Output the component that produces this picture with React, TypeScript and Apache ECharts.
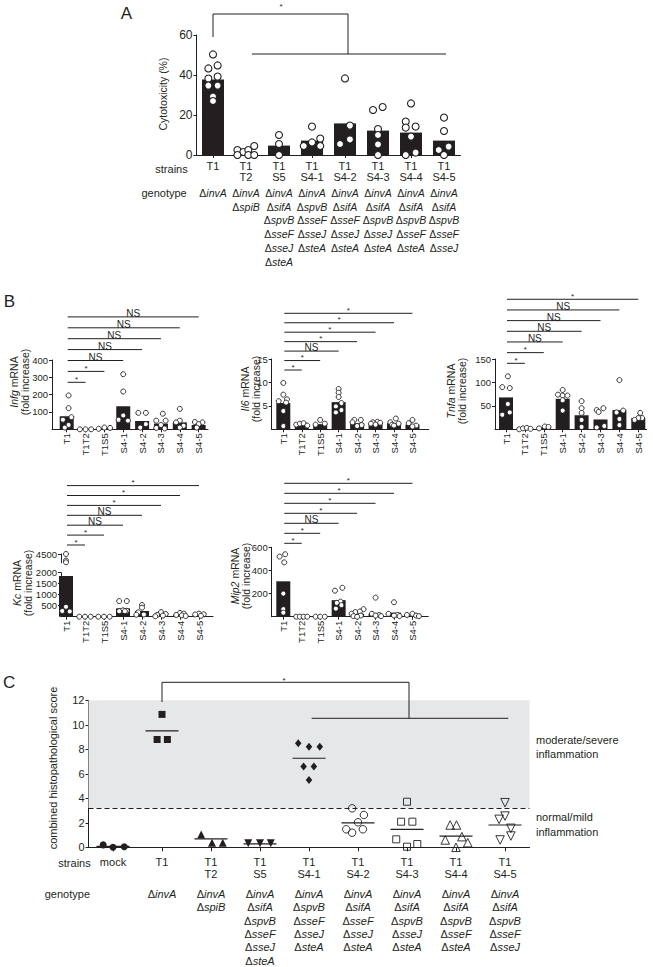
import React, { useEffect, useRef } from 'react';
import * as echarts from 'echarts';

const INK = '#231f20';
const GREY_BAND = '#e6e7e8';
const FONT = '"Liberation Sans", Arial, Helvetica, sans-serif';

// ---------------- Panel A : cytotoxicity ----------------
const strainsA = ['T1', 'T1\nT2', 'T1\nS5', 'T1\nS4-1', 'T1\nS4-2', 'T1\nS4-3', 'T1\nS4-4', 'T1\nS4-5'];
const cytoTicks = [0, 20, 40, 60];
const cytoBars = [37.8, 1.2, 4.7, 7.2, 15.8, 12.2, 11.2, 7.2];
const cytoPoints = [
  [50.3, 44.8, 43.3, 39.2, 38.2, 34.7, 34.7, 29.2, 27],
  [2.5, 1.5, 2.5, 4.5, 0, 0, 0],
  [10, 5.5, 0],
  [14.2, 8.2, 6.3, 4.5, 4.5],
  [38.3, 14.7, 7.8, 5.5],
  [24, 22.5, 13, 10, 5.3, 0],
  [25.8, 16.7, 14.2, 13.7, 9.2, 1.2, 0],
  [18.7, 12, 4.2, 2.5, 0],
];
const cytoJitter = [
  [0, 0.14, -0.14, 0.14, -0.14, -0.14, 0.14, 0, 0],
  [-0.26, -0.08, 0.07, 0.25, -0.26, 0.07, 0.25],
  [0, 0, 0],
  [0, 0.25, 0, -0.25, 0.25],
  [0, 0.15, 0.15, -0.15],
  [0.14, -0.15, 0, 0, 0, 0],
  [0, -0.16, 0.14, -0.16, 0, 0.14, -0.16],
  [0, 0, 0.14, -0.16, 0],
];
const genotypes = [
  ['invA'],
  ['invA', 'spiB'],
  ['invA', 'sifA', 'spvB', 'sseF', 'sseJ', 'steA'],
  ['invA', 'spvB', 'sseF', 'sseJ', 'steA'],
  ['invA', 'sifA', 'sseF', 'sseJ', 'steA'],
  ['invA', 'sifA', 'spvB', 'sseJ', 'steA'],
  ['invA', 'sifA', 'spvB', 'sseF', 'steA'],
  ['invA', 'sifA', 'spvB', 'sseF', 'sseJ'],
];

// ---------------- Panel B : mRNA fold increase ----------------
const strainsB = ['T1', 'T1T2', 'T1S5', 'S4-1', 'S4-2', 'S4-3', 'S4-4', 'S4-5'];

const infgTicks = [100, 200, 300, 400];
const infgBars = [75, 0, 5, 133, 48, 33, 40, 25];
const infgPoints = [
  [195, 122, 70, 55, 25, 10],
  [0, 0, 0],
  [3, 10, 8],
  [318, 218, 80, 55, 50],
  [95, 95, 30, 10],
  [90, 50, 50, 25, 8, 5],
  [118, 50, 40, 20, 10],
  [42, 40, 30, 10],
];
const infgJitter = [
  [0.1, 0.1, 0.25, -0.2, 0.1, -0.1],
  [-0.3, 0, 0.3],
  [-0.3, 0, 0.3],
  [0, 0, 0, -0.25, 0.25],
  [-0.2, 0.2, 0.2, -0.1],
  [0.1, -0.25, 0.25, 0, -0.25, 0.2],
  [0, 0, -0.2, 0.2, 0],
  [-0.2, 0.2, 0, -0.1],
];
const infgSig = ['*', '*', 'NS', 'NS', 'NS', 'NS', 'NS'];

const il6Ticks = [5, 10, 15];
const il6Bars = [5.6, 0.9, 1.1, 5.8, 1.3, 1.3, 1.3, 1.0];
const il6Points = [
  [9.9, 7.4, 6.4, 6.0, 5.7, 3.9, 0.7],
  [1.0, 1.2, 1.3, 0.8],
  [2.0, 1.0, 1.2],
  [8.6, 7.8, 6.9, 5.6, 4.9, 4.1, 3.6],
  [2.0, 2.0, 1.5, 0.9, 0.7],
  [1.6, 1.5, 1.4, 1.2, 1.0],
  [2.3, 1.5, 1.2, 1.0, 0.8],
  [2.0, 1.3, 0.8, 0.6],
];
const il6Jitter = [
  [0, 0, 0.2, -0.25, 0.15, 0, 0],
  [-0.3, -0.1, 0.1, 0.3],
  [0, -0.25, 0.25],
  [0, 0, 0, 0.15, -0.15, 0.15, -0.15],
  [-0.15, 0.2, -0.25, 0.25, 0],
  [0.1, -0.15, 0.25, -0.25, 0],
  [0.1, -0.2, 0.25, -0.1, 0],
  [0, -0.2, 0.2, 0],
];
const il6Sig = ['*', '*', 'NS', '*', '*', '*', '*'];

const tnfaTicks = [50, 100, 150];
const tnfaBars = [68, 1, 3, 65, 30, 21, 41, 24];
const tnfaPoints = [
  [113, 90, 88, 54, 36, 31],
  [0, 2, 3, 1],
  [2, 6, 5],
  [84, 74, 72, 72, 62, 40],
  [60, 45, 35, 20, 5],
  [45, 41, 37, 7, 4],
  [105, 40, 36, 22, 9],
  [35, 24, 24, 20],
];
const tnfaJitter = [
  [0.1, -0.2, 0.2, 0.1, 0.2, -0.2],
  [-0.3, -0.1, 0.1, 0.3],
  [-0.25, 0.05, 0.25],
  [0, -0.25, 0, 0.25, 0, 0],
  [0, 0, 0, 0, 0],
  [0.15, -0.2, -0.1, 0.2, -0.2],
  [0, 0.2, -0.15, 0, 0],
  [0.1, 0.2, 0, -0.2],
];
const tnfaSig = ['*', '*', 'NS', 'NS', 'NS', 'NS', '*'];

const kcTicksLow = [500, 1000, 1500, 2000];
const kcTicksHigh = [2500, 4500];
const kcBars = [1850, 0, 0, 380, 260, 70, 70, 50];
const kcPoints = [
  [4500, 3000, 2600, 450, 260, 240],
  [0, 0, 0],
  [0, 0, 0],
  [710, 710, 290, 270, 250, 250],
  [530, 410, 200, 100, 90],
  [210, 120, 80, 50, 20],
  [170, 140, 80, 60, 30],
  [140, 110, 100, 40],
];
const kcJitter = [
  [0, 0, 0, 0, -0.2, 0.2],
  [-0.3, 0, 0.3],
  [-0.3, 0, 0.3],
  [-0.2, 0.2, 0, 0.2, -0.2, 0.1],
  [0, 0, -0.2, 0.1, -0.3],
  [0, 0.25, -0.2, 0.1, -0.3],
  [0, 0.2, -0.2, 0.1, 0.3],
  [0, 0.25, -0.2, 0.1],
];
const kcSig = ['*', '*', 'NS', 'NS', '*', '*', '*'];

const mip2Ticks = [200, 400, 600];
const mip2Bars = [306, 0, 0, 143, 25, 25, 35, 10];
const mip2Points = [
  [540, 520, 470, 200, 65, 35],
  [0, 0, 0, 0],
  [0, 0, 0],
  [250, 225, 130, 120, 100, 70],
  [65, 45, 40, 25, 10, 5, 0],
  [165, 25, 15, 10, 5],
  [125, 25, 15, 10, 5],
  [25, 15, 10, 5],
];
const mip2Jitter = [
  [0.1, -0.2, 0.05, 0, 0, 0],
  [-0.3, -0.1, 0.1, 0.3],
  [-0.25, 0, 0.25],
  [0.2, -0.2, 0.1, -0.1, 0.15, -0.15],
  [0.35, 0.15, -0.1, -0.3, 0.2, -0.2, 0],
  [0, -0.2, 0.2, 0, 0.3],
  [0, -0.3, 0.2, 0, 0.3],
  [0, -0.3, 0.2, 0.35],
];
const mip2Sig = ['*', '*', 'NS', '*', '*', '*', '*'];

// ---------------- Panel C : histopathology ----------------
const strainsC = ['mock', 'T1', 'T1\nT2', 'T1\nS5', 'T1\nS4-1', 'T1\nS4-2', 'T1\nS4-3', 'T1\nS4-4', 'T1\nS4-5'];
const histoTicks = [0, 2, 4, 6, 8, 10, 12];
const histoScores = [
  [0.2, 0, 0.05],
  [10.85, 8.8, 8.8],
  [1.05, 0.38, 0.38],
  [0.33, 0.33, 0.33],
  [8.5, 8.2, 8.2, 6.6, 6.6, 5.5],
  [3.18, 2.64, 2.04, 1.47, 1.19, 1.47],
  [3.72, 2.09, 2.09, 0.65, 0.27, 0.05],
  [1.82, 1.82, 0.87, 0.6, 0.38, 0],
  [3.64, 2.55, 2.28, 1.55, 0.92, 0.6],
];
const histoJitter = [
  [-0.2, 0, 0.23],
  [0, -0.1, 0.11],
  [-0.2, 0.02, 0.24],
  [-0.24, 0, 0.22],
  [-0.22, 0, 0.22, -0.11, 0.1, 0],
  [-0.12, 0.12, 0, -0.24, -0.12, 0.1],
  [0, -0.12, 0.11, -0.22, 0.21, 0],
  [-0.12, 0.01, 0.12, -0.22, 0.24, 0],
  [0, 0, -0.12, 0.12, 0.12, -0.1],
];
const histoMeans = [0.07, 9.5, 0.68, 0.28, 7.27, 2.0, 1.47, 0.92, 1.82];
const inflammationCutoff = 3.2;

// ---------------- layout (pixels) ----------------
const LA = { left: 196.5, top: 35, width: 264, height: 120, band: 33 };
const LC = { left: 88.5, top: 700.3, width: 441, height: 147, band: 49 };
const bPanels = [
  { gene: 'Infg', ticks: infgTicks, yMax: 400, bars: infgBars, points: infgPoints, jitter: infgJitter, sig: infgSig,
    left: 52, top: 360, width: 156, height: 69.3, c0: 66.7, band: 18.85, brBottom: 382.3, brStep: 10.9, titleX: 19.5, titleY: 382 },
  { gene: 'Il6', ticks: il6Ticks, yMax: 15, bars: il6Bars, points: il6Points, jitter: il6Jitter, sig: il6Sig,
    left: 271.7, top: 359, width: 157, height: 70.3, c0: 283.3, band: 18.45, brBottom: 370, brStep: 9.45, titleX: 250, titleY: 389 },
  { gene: 'Tnfa', ticks: tnfaTicks, yMax: 150, bars: tnfaBars, points: tnfaPoints, jitter: tnfaJitter, sig: tnfaSig,
    left: 495, top: 359, width: 151.7, height: 70.3, c0: 506, band: 18.9, brBottom: 363.3, brStep: 10.67, titleX: 456.5, titleY: 391 },
  { gene: 'Kc', ticks: kcTicksLow, yMax: 2000, bars: kcBars, points: kcPoints, jitter: kcJitter, sig: kcSig,
    left: 61, top: 572.7, width: 152, height: 44, c0: 66, band: 19, brBottom: 545, brStep: 9.9, titleX: 22.5, titleY: 583,
    upper: { top: 554, height: 8.7, min: 2500, max: 4500, ticks: kcTicksHigh } },
  { gene: 'Mip2', ticks: mip2Ticks, yMax: 600, bars: mip2Bars, points: mip2Points, jitter: mip2Jitter, sig: mip2Sig,
    left: 271.7, top: 547.3, width: 156.6, height: 69.4, c0: 283.3, band: 18.45, brBottom: 543.3, brStep: 10, titleX: 240, titleY: 576 },
];

function txt(text: string, x: number, y: number, o: any = {}) {
  return {
    type: 'text', x, y, rotation: o.rotation || 0, silent: true, z: 10,
    style: {
      text, fill: INK, fontSize: o.fontSize || 11, fontFamily: FONT,
      fontStyle: o.fontStyle || 'normal',
      align: o.align || 'center', verticalAlign: o.verticalAlign || 'middle',
      lineHeight: o.lineHeight, rich: o.rich,
    },
  };
}
function seg(x1: number, y1: number, x2: number, y2: number) {
  return { type: 'line', silent: true, z: 10, shape: { x1, y1, x2, y2 }, style: { stroke: INK, lineWidth: 1 } };
}
function geneRich(fontSize: number) {
  return {
    d: { fontStyle: 'normal', fontSize, fontFamily: FONT, fill: INK },
    i: { fontStyle: 'italic', fontSize, fontFamily: FONT, fill: INK },
  };
}
function jittered(groups: number[][], jitter: number[][], keep?: (v: number) => boolean) {
  const out: number[][] = [];
  groups.forEach((vals, i) => vals.forEach((v, k) => {
    if (!keep || keep(v)) out.push([i + ((jitter[i] && jitter[i][k]) || 0), v]);
  }));
  return out;
}

function buildOption() {
  const grid: any[] = [];
  const xAxis: any[] = [];
  const yAxis: any[] = [];
  const series: any[] = [];
  const graphic: any[] = [];

  const addCart = (g: any, xMin: number, xMax: number, xLabels: string[] | null, xl: any, yMin: number, yMax: number, yTicks: number[], yFont: number) => {
    const gi = grid.length;
    grid.push({ left: g.left, top: g.top, width: g.width, height: g.height, containLabel: false, outerBoundsMode: 'none' });
    const idx = xLabels ? xLabels.map((_, i) => i) : [];
    xAxis.push({
      type: 'value', gridIndex: gi, min: xMin, max: xMax, show: !!xLabels,
      axisLine: { show: true, onZero: false, lineStyle: { color: INK, width: 1 } },
      axisTick: { show: true, customValues: idx, length: xl.tick, lineStyle: { color: INK, width: 1 } },
      axisLabel: {
        show: true, customValues: idx, formatter: (v: number) => (xLabels ? xLabels[Math.round(v)] || '' : ''),
        rotate: xl.rotate || 0, fontSize: xl.fontSize, lineHeight: xl.lineHeight, margin: xl.margin,
        color: INK, fontFamily: FONT,
      },
      splitLine: { show: false },
    });
    yAxis.push({
      type: 'value', gridIndex: gi, min: yMin, max: yMax,
      axisLine: { show: true, onZero: false, lineStyle: { color: INK, width: 1 } },
      axisTick: { show: true, customValues: yTicks, length: 3, lineStyle: { color: INK, width: 1 } },
      axisLabel: { show: true, customValues: yTicks, formatter: (v: number) => String(v), fontSize: yFont, color: INK, fontFamily: FONT, margin: 4 },
      splitLine: { show: false },
    });
    return gi;
  };

  // ----- Panel A -----
  const a = addCart(LA, -0.5, 7.5, strainsA, { tick: 3, fontSize: 11, lineHeight: 11, margin: 5 }, 0, 60, cytoTicks, 12);
  series.push({ type: 'bar', xAxisIndex: a, yAxisIndex: a, barWidth: 22, silent: true,
    data: cytoBars.map((v, i) => [i, v]), itemStyle: { color: INK } });
  series.push({ type: 'scatter', xAxisIndex: a, yAxisIndex: a, clip: false, silent: true, symbol: 'circle', symbolSize: 7,
    data: jittered(cytoPoints, cytoJitter), itemStyle: { color: '#fff', borderColor: INK, borderWidth: 1.1, opacity: 1 } });
  const cA = (i: number) => LA.left + LA.band * (i + 0.5);
  graphic.push(txt('A', 126.5, 13.5, { fontSize: 17 }));
  graphic.push(txt('Cytotoxicity (%)', 163, 94, { fontSize: 10.5, rotation: Math.PI / 2 }));
  graphic.push(seg(cA(0), 37, cA(0), 14), seg(cA(0), 14, 348, 14), seg(348, 14, 348, 54), seg(252, 54, 446, 54));
  graphic.push(txt('*', 281, 10, { fontSize: 8, verticalAlign: 'bottom' }));
  graphic.push(txt('strains', 187.7, 169.3, { align: 'right' }));
  graphic.push(txt('genotype', 186.7, 192.7, { align: 'right' }));
  genotypes.forEach((gs, i) => gs.forEach((g, k) => {
    graphic.push(txt(`{d|Δ}{i|${g}}`, cA(i), 192.7 + 13.8 * k, { fontSize: 10.5, rich: geneRich(10.5) }));
  }));

  // ----- Panel B -----
  graphic.push(txt('B', 9.5, 301.7, { fontSize: 17 }));
  bPanels.forEach((p: any) => {
    const xMin = (p.left - p.c0) / p.band;
    const xMax = xMin + p.width / p.band;
    const xl = { tick: 3, fontSize: 9.5, margin: 4, rotate: 90 };
    const gi = addCart(p, xMin, xMax, strainsB, xl, 0, p.yMax, p.ticks, 9.5);
    series.push({ type: 'bar', xAxisIndex: gi, yAxisIndex: gi, barWidth: 14, silent: true,
      data: p.bars.map((v: number, i: number) => [i, v]), itemStyle: { color: INK } });
    const dotStyle = { color: '#fff', borderColor: INK, borderWidth: 0.9, opacity: 1 };
    series.push({ type: 'scatter', xAxisIndex: gi, yAxisIndex: gi, clip: false, silent: true, symbol: 'circle', symbolSize: 5,
      data: jittered(p.points, p.jitter, p.upper ? (v) => v <= p.yMax : undefined), itemStyle: dotStyle });
    if (p.upper) {
      const gu = addCart({ left: p.left, top: p.upper.top, width: p.width, height: p.upper.height }, xMin, xMax, null,
        { tick: 0, fontSize: 9.5, margin: 4 }, p.upper.min, p.upper.max, p.upper.ticks, 9.5);
      series.push({ type: 'scatter', xAxisIndex: gu, yAxisIndex: gu, clip: false, silent: true, symbol: 'circle', symbolSize: 5,
        data: jittered(p.points, p.jitter, (v) => v > p.yMax), itemStyle: dotStyle });
    }
    const cx = (i: number) => p.c0 + p.band * i;
    p.sig.forEach((s: string, j: number) => {
      const y = p.brBottom - j * p.brStep;
      const x1 = cx(0) + 1;
      const x2 = cx(j + 1);
      graphic.push(seg(x1, y, x2, y));
      if (s === 'NS') graphic.push(txt('NS', (x1 + x2) / 2, y + 1.5, { fontSize: 10, verticalAlign: 'bottom' }));
      else graphic.push(txt('*', (x1 + x2) / 2, y + 1, { fontSize: 8, verticalAlign: 'bottom' }));
    });
    graphic.push(txt(`{i|${p.gene}} mRNA\n(fold increase)`, p.titleX, p.titleY, {
      fontSize: 10.5, lineHeight: 11, rotation: Math.PI / 2,
      rich: { i: { fontStyle: 'italic', fontSize: 10.5, lineHeight: 11, fontFamily: FONT, fill: INK } },
    }));
  });

  // ----- Panel C -----
  const c = addCart(LC, -0.5, 8.5, strainsC, { tick: 4, fontSize: 11, lineHeight: 11.6, margin: 9 }, 0, 12, histoTicks, 11);
  series.push({
    type: 'scatter', xAxisIndex: c, yAxisIndex: c, data: [], z: 0, silent: true,
    markArea: { silent: true, itemStyle: { color: GREY_BAND }, data: [[{ yAxis: inflammationCutoff }, { yAxis: 12 }]] },
    markLine: { silent: true, symbol: ['none', 'none'], label: { show: false },
      lineStyle: { color: INK, width: 1, type: [5, 3] }, data: [{ yAxis: inflammationCutoff }] },
  });
  const marks = [
    { symbol: 'circle', size: 7, filled: true, rot: 0 },
    { symbol: 'rect', size: 7, filled: true, rot: 0 },
    { symbol: 'triangle', size: 8, filled: true, rot: 0 },
    { symbol: 'triangle', size: 8, filled: true, rot: 180 },
    { symbol: 'diamond', size: [6.5, 8], filled: true, rot: 0 },
    { symbol: 'circle', size: 7.5, filled: false, rot: 0 },
    { symbol: 'rect', size: 7, filled: false, rot: 0 },
    { symbol: 'triangle', size: 8.5, filled: false, rot: 0 },
    { symbol: 'triangle', size: 8.5, filled: false, rot: 180 },
  ];
  histoScores.forEach((vals, i) => {
    const m = marks[i];
    series.push({
      type: 'scatter', xAxisIndex: c, yAxisIndex: c, clip: false, silent: true, z: 3,
      symbol: m.symbol, symbolSize: m.size, symbolRotate: m.rot,
      data: vals.map((v, k) => [i + histoJitter[i][k], v]),
      itemStyle: m.filled ? { color: INK, opacity: 1 } : { color: 'rgba(0,0,0,0)', borderColor: INK, borderWidth: 0.9, opacity: 1 },
    });
  });
  series.push({ type: 'scatter', xAxisIndex: c, yAxisIndex: c, clip: false, silent: true, z: 4,
    symbol: 'rect', symbolSize: [33, 1.2], data: histoMeans.map((v, i) => [i, v]), itemStyle: { color: INK, opacity: 1 } });

  const cC = (i: number) => LC.left + LC.band * (i + 0.5);
  graphic.push(txt('C', 9.2, 682.5, { fontSize: 17 }));
  graphic.push(txt('combined histopathological score', 53, 768, { fontSize: 11, rotation: Math.PI / 2 }));
  graphic.push(seg(cC(1), 702, cC(1), 682.3), seg(cC(1), 682.3, 409, 682.3), seg(409, 682.3, 409, 718.3), seg(311.7, 718.3, 508.3, 718.3));
  graphic.push(txt('*', 284, 684, { fontSize: 8, verticalAlign: 'bottom' }));
  graphic.push(txt('moderate/severe', 536, 740, { align: 'left' }));
  graphic.push(txt('inflammation', 536, 754.3, { align: 'left' }));
  graphic.push(txt('normal/mild', 536, 817.3, { align: 'left' }));
  graphic.push(txt('inflammation', 536, 832, { align: 'left' }));
  graphic.push(txt('strains', 90.7, 862.7, { align: 'right' }));
  graphic.push(txt('genotype', 90, 894, { align: 'right' }));
  genotypes.forEach((gs, i) => gs.forEach((g, k) => {
    graphic.push(txt(`{d|Δ}{i|${g}}`, cC(i + 1), 894 + 13.3 * k, { fontSize: 11, rich: geneRich(11) }));
  }));

  return {
    animation: false,
    backgroundColor: '#ffffff',
    textStyle: { fontFamily: FONT },
    grid, xAxis, yAxis, series, graphic,
  };
}

export default function App() {
  const ref = useRef<HTMLDivElement>(null);
  useEffect(() => {
    if (!ref.current) return;
    const chart = echarts.init(ref.current, null, { renderer: 'svg' });
    chart.setOption(buildOption() as any);
    return () => chart.dispose();
  }, []);
  return <div ref={ref} style={{ position: 'absolute', left: 0, top: 0, width: 653, height: 967, background: '#fff' }} />;
}
